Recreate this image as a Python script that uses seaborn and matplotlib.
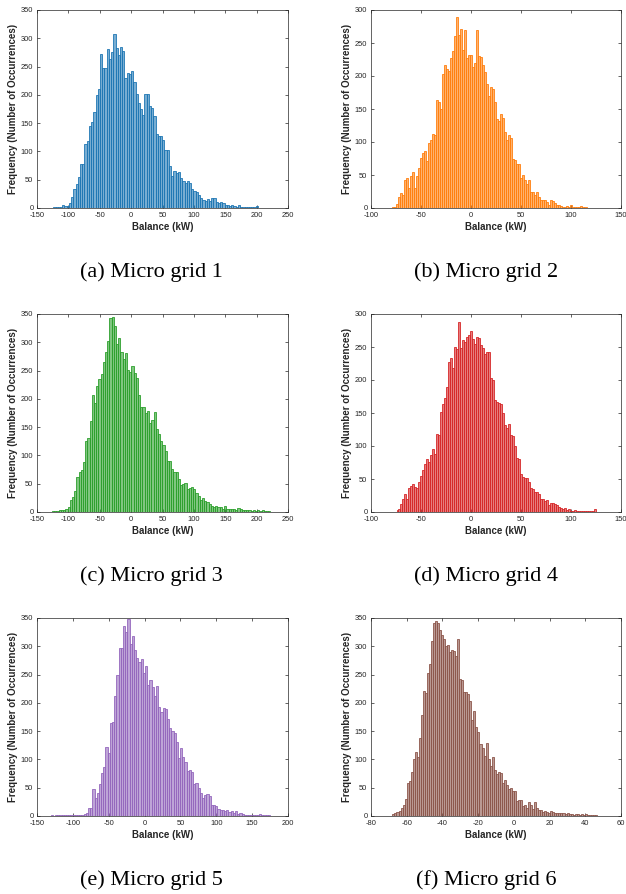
import numpy as np
import pandas as pd
import matplotlib
matplotlib.use("Agg")
import matplotlib.pyplot as plt
import seaborn as sns

# ---------------- data (bin counts) ----------------
grid1_counts = [1, 1, 1, 1, 5, 4, 3, 8, 20, 33, 43, 54, 78, 77, 113, 118, 145, 152, 169, 200, 210, 272,
                247, 247, 281, 263, 275, 307, 283, 271, 284, 278,
                230, 238, 237, 242, 222, 201, 185, 175, 165, 201,
                201, 180, 176, 162, 130, 127, 128, 120, 103, 103,
                75, 57, 65, 62, 63, 53, 47, 45, 47, 45,
                33, 30, 28, 23, 18, 15, 13, 16, 13, 17,
                17, 11, 9, 10, 8, 6, 5, 4, 5, 3,
                1, 5, 2, 2, 1, 2, 1, 1, 1, 3]
grid1_range = (-124, 202)

grid2_counts = [2, 2, 6, 16, 22, 20, 43, 45, 31, 48,
                54, 30, 48, 61, 76, 84, 87, 71, 99, 103,
                112, 110, 163, 160, 150, 203, 216, 210, 208, 228,
                238, 260, 290, 262, 271, 240, 270, 228, 232, 232,
                214, 220, 270, 231, 229, 216, 206, 188, 170, 183,
                180, 160, 135, 132, 142, 136, 115, 103, 110, 106,
                75, 73, 67, 67, 46, 50, 42, 37, 43, 25,
                24, 20, 24, 17, 12, 12, 12, 9, 4, 12,
                10, 8, 5, 4, 3, 2, 2, 3, 1, 4,
                2, 1, 2, 1, 3, 1, 1]
grid2_range = (-79, 115.5)

grid3_counts = [1, 1, 2, 3, 3, 3, 6, 8, 22, 27,
                37, 62, 71, 74, 89, 126, 131, 160, 207, 192,
                222, 235, 244, 265, 283, 303, 343, 345, 328, 297,
                307, 282, 271, 281, 251, 248, 258, 245, 237, 206,
                185, 185, 175, 178, 158, 162, 177, 147, 137, 126,
                119, 107, 90, 90, 76, 70, 70, 59, 48, 50,
                51, 40, 43, 45, 40, 33, 28, 22, 25, 20,
                17, 15, 10, 9, 10, 9, 8, 6, 10, 5,
                6, 5, 6, 4, 7, 5, 3, 4, 3, 3,
                2, 3, 2, 3, 2, 3, 2, 1, 1]
grid3_range = (-126, 222)

grid4_counts = [3, 4, 12, 20, 27, 20, 37, 40, 42, 38,
                36, 45, 54, 63, 72, 81, 76, 87, 96, 88,
                118, 116, 152, 163, 172, 189, 228, 233, 218, 250,
                247, 288, 248, 260, 258, 265, 268, 274, 262, 254,
                265, 263, 253, 248, 240, 243, 242, 203, 200, 170,
                167, 165, 163, 150, 132, 128, 133, 117, 115, 100,
                82, 80, 57, 53, 51, 52, 46, 37, 35, 30,
                30, 27, 19, 19, 17, 18, 10, 13, 14, 12,
                10, 7, 6, 4, 6, 3, 5, 2, 2, 3,
                2, 2, 1, 1, 1, 1, 1, 1, 1, 4]
grid4_range = (-74.5, 124.5)

grid5_counts = [1, 0, 1, 1, 1, 1, 1, 1, 1, 1,
                1, 1, 1, 1, 2, 3, 5, 15, 15, 48,
                32, 40, 57, 76, 87, 122, 111, 164, 167, 213,
                249, 297, 297, 336, 326, 348, 304, 319, 294, 279,
                272, 278, 253, 265, 232, 240, 228, 213, 229, 192,
                183, 191, 190, 172, 155, 150, 147, 130, 103, 121,
                105, 95, 79, 81, 78, 57, 58, 50, 40, 31,
                38, 39, 35, 20, 19, 17, 12, 11, 10, 8,
                10, 7, 9, 5, 9, 4, 5, 3, 2, 1,
                2, 2, 1, 1, 2, 3, 2, 1, 1, 1]
grid5_range = (-131, 175)

grid6_counts = [3, 5, 7, 8, 14, 19, 30, 58, 62, 78,
                100, 113, 105, 137, 178, 221, 218, 253, 268, 310,
                342, 344, 342, 328, 320, 312, 301, 303, 290, 294,
                291, 282, 313, 242, 240, 220, 219, 215, 203, 170,
                186, 157, 149, 128, 120, 106, 129, 100, 88, 105,
                82, 74, 77, 76, 58, 63, 55, 48, 49, 45,
                44, 27, 28, 28, 18, 20, 14, 24, 20, 12,
                24, 14, 10, 11, 7, 8, 7, 6, 8, 7,
                6, 6, 5, 6, 5, 4, 5, 4, 3, 2,
                3, 3, 2, 3, 2, 3, 2, 2, 1, 2, 1]
grid6_range = (-68, 46.5)

captions = ["(a) Micro grid 1", "(b) Micro grid 2", "(c) Micro grid 3",
            "(d) Micro grid 4", "(e) Micro grid 5", "(f) Micro grid 6"]
x_ticks = [[-150, -100, -50, 0, 50, 100, 150, 200, 250],
           [-100, -50, 0, 50, 100, 150],
           [-150, -100, -50, 0, 50, 100, 150, 200, 250],
           [-100, -50, 0, 50, 100, 150],
           [-150, -100, -50, 0, 50, 100, 150, 200],
           [-80, -60, -40, -20, 0, 20, 40, 60]]
y_max = [350, 300, 350, 300, 350, 350]
colors = ["#1f77b4", "#ff7f0e", "#2ca02c", "#d62728", "#9467bd", "#8c564b"]
x_label = "Balance (kW)"
y_label = "Frequency (Number of Occurrences)"

all_counts = [grid1_counts, grid2_counts, grid3_counts, grid4_counts, grid5_counts, grid6_counts]
all_ranges = [grid1_range, grid2_range, grid3_range, grid4_range, grid5_range, grid6_range]

# ---------------- style / layout ----------------
sns.set_style("ticks")
plt.rcParams['font.family'] = ['Liberation Sans', 'DejaVu Sans']
plt.rcParams['axes.unicode_minus'] = False

W, H = 626, 894
fig = plt.figure(figsize=(W / 100, H / 100), dpi=100)

col_left = [37, 371]
col_width = [251, 250]
row_top = [10, 314, 618]
ax_h = 198
cap_x = [151, 486]
cap_y = [272, 576, 880]

for i in range(6):
    r, c = divmod(i, 2)
    left = col_left[c] / W
    bottom = 1 - (row_top[r] + ax_h) / H
    ax = fig.add_axes([left, bottom, col_width[c] / W, ax_h / H])

    counts = list(all_counts[i])
    lo, hi = all_ranges[i]
    edges = np.linspace(lo, hi, len(counts) + 1)
    centers = 0.5 * (edges[:-1] + edges[1:])
    df = pd.DataFrame({"balance": centers, "count": counts})
    sns.histplot(data=df, x="balance", weights="count", bins=list(edges),
                 color=colors[i], alpha=0.6, edgecolor=colors[i],
                 linewidth=0.6, ax=ax)

    xt = x_ticks[i]
    ax.set_xlim(xt[0], xt[-1])
    ax.set_ylim(0, y_max[i])
    ax.set_xticks(xt)
    ax.set_yticks(np.arange(0, y_max[i] + 1, 50))
    ax.tick_params(direction='in', top=True, right=True, length=2.5, width=0.5,
                   labelsize=5.4, colors='#262626')
    ax.tick_params(axis='x', pad=3.2)
    ax.tick_params(axis='y', pad=2.6)
    for s in ax.spines.values():
        s.set_linewidth(0.5)
        s.set_color('#262626')
    ax.set_xlabel(x_label, fontsize=7, fontweight='bold', labelpad=1.8, color='#262626')
    ax.set_ylabel(y_label, fontsize=7, fontweight='bold', labelpad=2, color='#262626')

    fig.text(cap_x[c] / W, 1 - cap_y[r] / H, captions[i], ha='center', va='center',
             family=['Liberation Serif', 'DejaVu Serif'], fontsize=16, color='black')

fig.savefig("out.png", dpi=100)
